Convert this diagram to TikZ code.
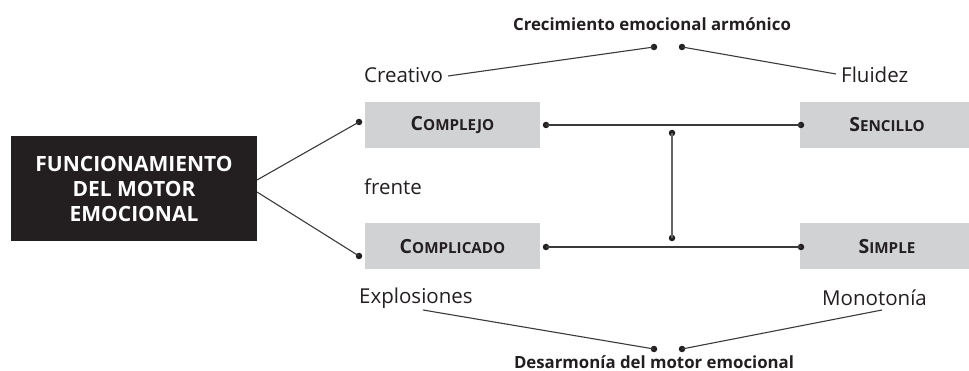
\documentclass[tikz,border=0pt]{standalone}
\usepackage{fontspec}
\setmainfont{Open Sans}
\definecolor{ink}{HTML}{231F20}
\definecolor{boxgray}{HTML}{D1D2D4}
\definecolor{wire}{HTML}{3A3A3A}
\newcommand{\scword}[2]{#1{\fontsize{15.2}{16}\selectfont #2}}
\begin{document}
\begin{tikzpicture}[x=1pt,y=-1pt,
  wirestyle/.style={draw=wire,line width=1.1pt},
  dotstyle/.style={circle,fill=ink,inner sep=0pt,minimum size=6.5pt},
  graybox/.style={fill=boxgray,minimum width=175pt,minimum height=46pt,inner sep=0pt,font=\bfseries\fontsize{19.5}{21}\selectfont,text=ink},
  label/.style={font=\fontsize{20.5}{22}\selectfont,text=ink,inner sep=0pt},
  title/.style={font=\bfseries\fontsize{16.8}{19}\selectfont,text=ink,inner sep=0pt}]
\useasboundingbox (0,0) rectangle (969,371);
% main black box
\node[fill=ink,minimum width=246pt,minimum height=105pt,inner sep=0pt,text=white,
  font=\bfseries\fontsize{21}{25}\selectfont,align=center] (fm) at (134,188.5)
  {FUNCIONAMIENTO\\DEL MOTOR\\EMOCIONAL};
% gray boxes
\node[graybox] (cx) at (452.5,125) {\scword{C}{OMPLEJO}};
\node[graybox] (cp) at (452.5,246.5) {\scword{C}{OMPLICADO}};
\node[graybox] (sc) at (887,125) {\scword{S}{ENCILLO}};
\node[graybox] (sp) at (887,246.5) {\scword{S}{IMPLE}};
% labels
\node[title] (top) at (652,24) {Crecimiento emocional armónico};
\node[title] (bot) at (654,362) {Desarmonía del motor emocional};
\node[label,anchor=west] (cre) at (364,75) {Creativo};
\node[label,anchor=west] (flu) at (841,75) {Fluidez};
\node[label,anchor=west] (fre) at (364,187) {frente};
\node[label,anchor=west] (exp) at (359,298) {Explosiones};
\node[label,anchor=west] (mon) at (822,298) {Monotonía};
% connection points
\coordinate (fmA) at (257,180);
\coordinate (fmB) at (257,192);
\node[dotstyle] (dA) at (359,122) {};
\node[dotstyle] (dB) at (359,256) {};
\node[dotstyle] (h1a) at (546,125) {};
\node[dotstyle] (h1b) at (801,125) {};
\node[dotstyle] (h2a) at (546,247) {};
\node[dotstyle] (h2b) at (801,247) {};
\node[dotstyle] (v1) at (672,133) {};
\node[dotstyle] (v2) at (672,238) {};
\node[dotstyle] (t1) at (654,47) {};
\node[dotstyle] (t2) at (682,47) {};
\node[dotstyle] (b1) at (654,349) {};
\node[dotstyle] (b2) at (682,349) {};
\coordinate (creE) at (448,76);
\coordinate (fluW) at (836,74);
\coordinate (expS) at (423,310);
\coordinate (monS) at (882,310);
% wires
\draw[wirestyle] (fmA) -- (dA.center);
\draw[wirestyle] (fmB) -- (dB.center);
\draw[wirestyle] (h1a.center) -- (h1b.center);
\draw[wirestyle] (h2a.center) -- (h2b.center);
\draw[wirestyle,draw=gray!80!black] (v1.center) -- (v2.center);
\draw[wirestyle] (creE) -- (t1.center);
\draw[wirestyle] (t2.center) -- (fluW);
\draw[wirestyle] (expS) -- (b1.center);
\draw[wirestyle] (monS) -- (b2.center);
\end{tikzpicture}
\end{document}
